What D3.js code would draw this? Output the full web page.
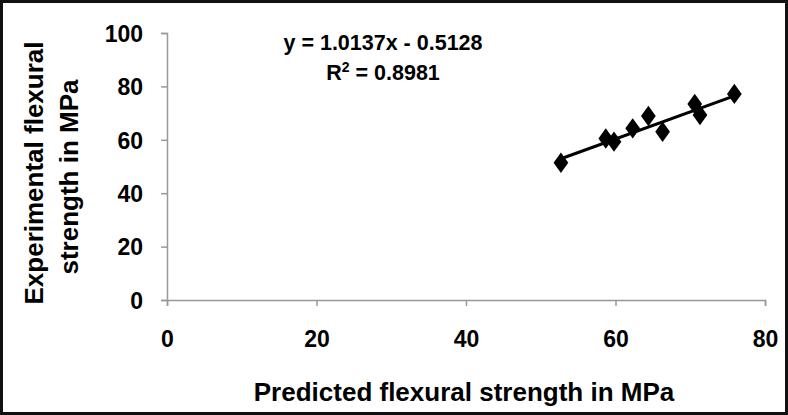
<!DOCTYPE html>
<html>
<head>
<meta charset="utf-8">
<script src="https://cdn.jsdelivr.net/npm/d3@7"></script>
<style>
  body { margin: 0; background: #fff; }
  text { font-family: "Liberation Sans", Arial, sans-serif; font-weight: bold; fill: #000; }
</style>
</head>
<body>
<script>
// predicted vs experimental flexural strength (MPa)
var predicted    = [52.7, 58.7, 59.8, 62.3, 64.4, 66.3, 70.6, 71.3, 75.9];
var experimental = [51.4, 60.5, 59.3, 64.3, 68.9, 63.0, 73.4, 69.3, 77.2];
var xTicks = [0, 20, 40, 60, 80];
var yTicks = [0, 20, 40, 60, 80, 100];
var slope = 1.0137, intercept = -0.5128, rSquared = 0.8981;

var width = 788, height = 415;

var svg = d3.select('body').append('svg').attr('width', width).attr('height', height);

// outer frame
svg.append('rect')
   .attr('x', 1.5).attr('y', 1.5)
   .attr('width', width - 3).attr('height', height - 3)
   .attr('fill', 'none').attr('stroke', '#111').attr('stroke-width', 3);

var x = d3.scaleLinear().domain([0, 80]).range([167, 765]);
var y = d3.scaleLinear().domain([0, 100]).range([300, 33]);

var axisColor = '#999';

// x axis
var gx = svg.append('g').attr('transform', 'translate(0,' + y(0) + ')')
   .call(d3.axisBottom(x).tickValues(xTicks).tickSize(6).tickPadding(25));
// y axis
var gy = svg.append('g').attr('transform', 'translate(' + x(0) + ',0)')
   .call(d3.axisLeft(y).tickValues(yTicks).tickSize(6).tickPadding(18));

[gx, gy].forEach(function (g) {
  g.select('.domain').attr('stroke', axisColor).attr('stroke-width', 1.5);
  g.selectAll('.tick line').attr('stroke', axisColor).attr('stroke-width', 1.5);
  g.selectAll('.tick text')
   .attr('fill', '#000')
   .style('font-family', '"Liberation Sans", Arial, sans-serif')
   .style('font-weight', 'bold')
   .style('font-size', '23px');
});
gy.selectAll('.tick text').attr('dy', '0.36em');

// trendline over the data range
var xMin = d3.min(predicted), xMax = d3.max(predicted);
svg.append('line')
   .attr('x1', x(xMin)).attr('y1', y(slope * xMin + intercept))
   .attr('x2', x(xMax)).attr('y2', y(slope * xMax + intercept))
   .attr('stroke', '#000').attr('stroke-width', 3);

// diamond markers
var diamond = d3.symbol().type(d3.symbolDiamond).size(120);
svg.selectAll('path.pt')
   .data(predicted)
   .enter()
   .append('path')
   .attr('class', 'pt')
   .attr('d', diamond)
   .attr('transform', function (d, i) {
      return 'translate(' + x(d) + ',' + y(experimental[i]) + ') scale(1.25,1)';
   })
   .attr('fill', '#000');

// equation
svg.append('text')
   .attr('x', 383).attr('y', 50)
   .attr('text-anchor', 'middle')
   .style('font-size', '21.5px')
   .text('y = ' + slope.toFixed(4) + 'x - ' + Math.abs(intercept).toFixed(4));

var r2 = svg.append('text')
   .attr('x', 383).attr('y', 80)
   .attr('text-anchor', 'middle')
   .style('font-size', '21.5px');
r2.append('tspan').text('R');
r2.append('tspan').attr('dy', -8).style('font-size', '14px').text('2');
r2.append('tspan').attr('dy', 8).text(' = ' + rSquared.toFixed(4));

// axis titles
svg.append('text')
   .attr('x', 464).attr('y', 401)
   .attr('text-anchor', 'middle')
   .style('font-size', '26px')
   .text('Predicted flexural strength in MPa');

var yTitle = svg.append('text')
   .attr('transform', 'translate(43,' + 173 + ') rotate(-90)')
   .attr('text-anchor', 'middle')
   .style('font-size', '26px');
yTitle.append('tspan').attr('x', 0).attr('dy', 0).text('Experimental flexural');
yTitle.append('tspan').attr('x', -4).attr('dy', 35).text('strength in MPa');
</script>
</body>
</html>
